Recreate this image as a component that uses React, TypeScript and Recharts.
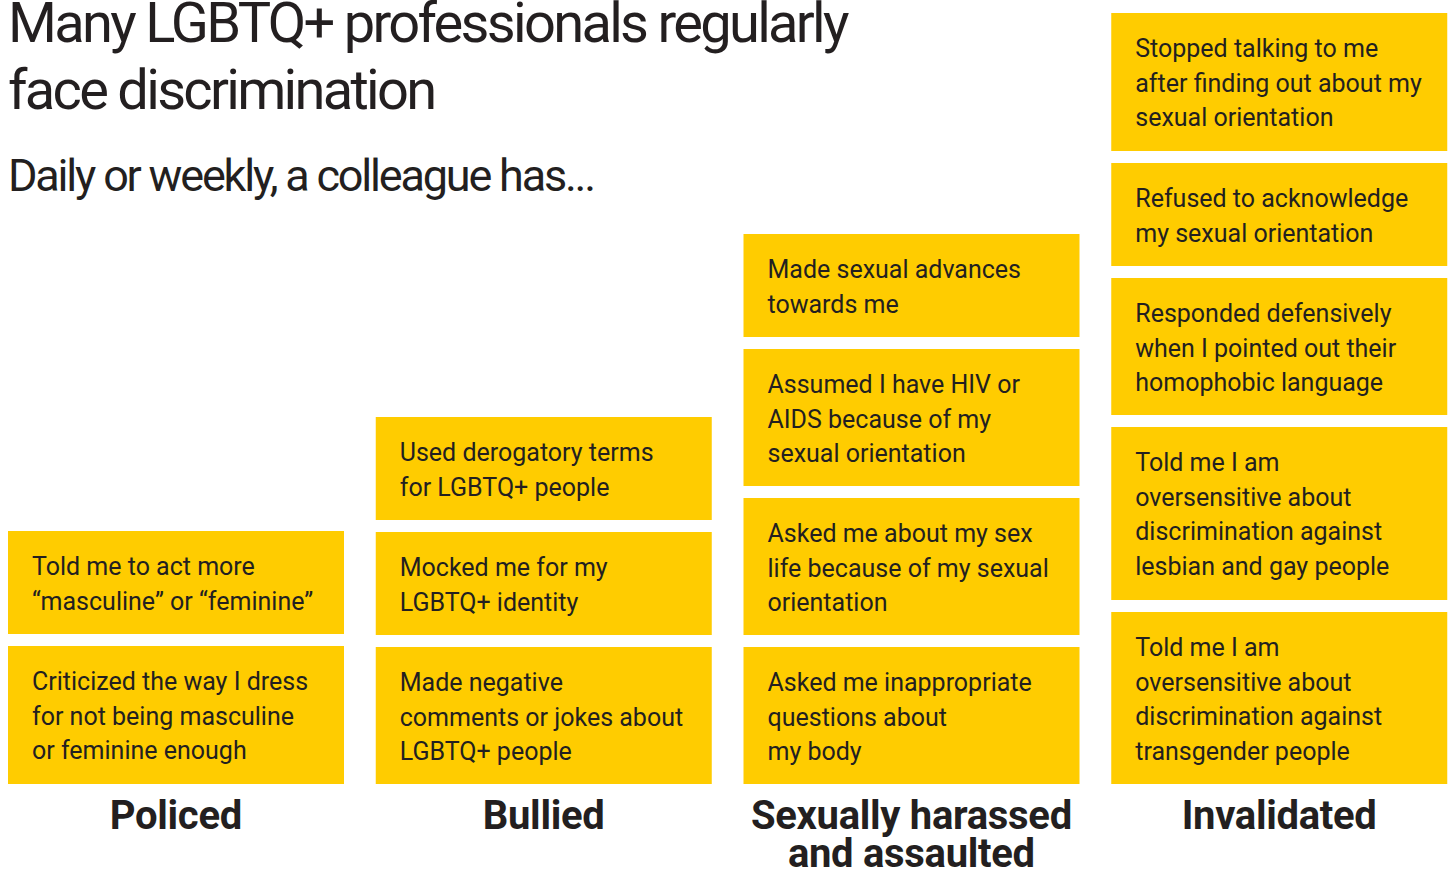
import React from 'react';
import { BarChart, Bar, XAxis, YAxis } from 'recharts';

const categories = ['Policed', 'Bullied', 'Sexually harassed and assaulted', 'Invalidated'];

// statements per category, listed bottom to top
const policedItems = [
  'Criticized the way I dress\nfor not being masculine\nor feminine enough',
  'Told me to act more\n“masculine” or “feminine”',
];
const bulliedItems = [
  'Made negative\ncomments or jokes about\nLGBTQ+ people',
  'Mocked me for my\nLGBTQ+ identity',
  'Used derogatory terms\nfor LGBTQ+ people',
];
const harassedItems = [
  'Asked me inappropriate\nquestions about\nmy body',
  'Asked me about my sex\nlife because of my sexual\norientation',
  'Assumed I have HIV or\nAIDS because of my\nsexual orientation',
  'Made sexual advances\ntowards me',
];
const invalidatedItems = [
  'Told me I am\noversensitive about\ndiscrimination against\ntransgender people',
  'Told me I am\noversensitive about\ndiscrimination against\nlesbian and gay people',
  'Responded defensively\nwhen I pointed out their\nhomophobic language',
  'Refused to acknowledge\nmy sexual orientation',
  'Stopped talking to me\nafter finding out about my\nsexual orientation',
];

// box heights, bottom to top
const policedHeights = [138, 103];
const bulliedHeights = [137, 103, 103];
const harassedHeights = [137, 137, 137, 103];
const invalidatedHeights = [172, 173, 137, 103, 138];

const GAP = 12;
const YELLOW = '#FFCC00';
const INK = '#231F20';
const FONT = 'Roboto, "Noto Sans", sans-serif';

const allItems = [policedItems, bulliedItems, harassedItems, invalidatedItems];
const allHeights = [policedHeights, bulliedHeights, harassedHeights, invalidatedHeights];

const data = categories.map((name, ci) => {
  const row: any = { name };
  allItems[ci].forEach((t, i) => {
    row[`s${i}`] = allHeights[ci][i] + GAP;
    row[`t${i}`] = t;
  });
  return row;
});

const SEGMENTS = [0, 1, 2, 3, 4];

const Box = (props: any) => {
  const { x, y, width, height, payload, seg } = props;
  const text: string | undefined = payload && payload[`t${seg}`];
  if (!text || !height || height <= GAP) return null;
  const top = y + GAP;
  const lines = text.split('\n');
  return (
    <g>
      <rect x={x} y={top} width={width} height={height - GAP} fill={YELLOW} />
      <text x={x + 24} y={top + 44} fill={INK} fontFamily={FONT} fontSize={25}>
        {lines.map((l, i) => (
          <tspan key={i} x={x + 24} y={top + 44 + i * 34.5}>{l}</tspan>
        ))}
      </text>
    </g>
  );
};

const CategoryTick = (props: any) => {
  const { x, y, payload } = props;
  const label: string = payload.value;
  const lines = label === 'Sexually harassed and assaulted' ? ['Sexually harassed', 'and assaulted'] : [label];
  return (
    <text x={x} y={y} textAnchor="middle" fill={INK} fontFamily={FONT} fontWeight={700} fontSize={40} letterSpacing={-0.3}>
      {lines.map((l, i) => (
        <tspan key={i} x={x} y={y + 45 + i * 38}>{l}</tspan>
      ))}
    </text>
  );
};

export default function App() {
  return (
    <div style={{ position: 'absolute', left: 0, top: 0, width: 1448, height: 876, overflow: 'hidden', background: '#fff' }}>
      <BarChart width={1448} height={876} data={data} margin={{ top: 0, right: -15, left: -8, bottom: 0 }} barSize={336}>
        <XAxis dataKey="name" height={92} axisLine={false} tickLine={false} tickSize={0} tickMargin={0} interval={0} tick={<CategoryTick />} />
        <YAxis hide domain={[0, 784]} allowDataOverflow />
        {SEGMENTS.map((seg) => (
          <Bar
            key={seg}
            dataKey={`s${seg}`}
            stackId="a"
            isAnimationActive={false}
            shape={(p: any) => <Box {...p} seg={seg} />}
          />
        ))}
      </BarChart>
      <div style={{ position: 'absolute', left: 8, top: -10, fontFamily: FONT, color: INK, fontSize: 56, lineHeight: '67px', letterSpacing: -2.7, whiteSpace: 'nowrap' }}>
        Many LGBTQ+ professionals regularly<br />face discrimination
      </div>
      <div style={{ position: 'absolute', left: 8, top: 149, fontFamily: FONT, color: INK, fontSize: 45, lineHeight: '54px', letterSpacing: -2.2, whiteSpace: 'nowrap' }}>
        Daily or weekly, a colleague has...
      </div>
    </div>
  );
}
